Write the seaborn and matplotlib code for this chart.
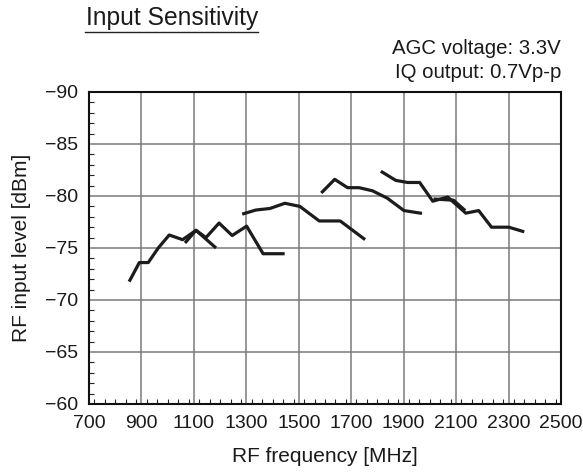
import numpy as np
import pandas as pd
import matplotlib
matplotlib.use("Agg")
import matplotlib.pyplot as plt
from matplotlib.ticker import MultipleLocator
import seaborn as sns

# %%
# curves (frequency in MHz, level in dBm)
freq_a = [856, 892, 926, 964, 1006, 1057, 1108, 1146, 1196, 1246, 1301, 1364, 1440]
level_a = [-71.9, -73.6, -73.6, -75.0, -76.25, -75.8, -76.7, -76.0, -77.4, -76.2, -77.1, -74.45, -74.45]

freq_b = [1070, 1108, 1180]
level_b = [-75.6, -76.7, -75.1]

freq_c = [1290, 1336, 1390, 1447, 1504, 1578, 1658, 1748]
level_c = [-78.3, -78.65, -78.8, -79.3, -79.0, -77.6, -77.6, -75.9]

freq_d = [1590, 1637, 1686, 1730, 1781, 1837, 1901, 1964]
level_d = [-80.4, -81.6, -80.8, -80.8, -80.5, -79.8, -78.6, -78.35]

freq_e = [1818, 1870, 1915, 1961, 2011, 2068, 2137, 2186, 2235, 2301, 2354]
level_e = [-82.3, -81.5, -81.3, -81.3, -79.5, -79.9, -78.35, -78.6, -77.0, -77.0, -76.6]

freq_f = [2020, 2090, 2130]
level_f = [-79.7, -79.6, -78.7]

curves = {"a": (freq_a, level_a), "b": (freq_b, level_b), "c": (freq_c, level_c),
          "d": (freq_d, level_d), "e": (freq_e, level_e), "f": (freq_f, level_f)}

df = pd.concat([pd.DataFrame({"freq": f, "level": l, "curve": k})
                for k, (f, l) in curves.items()], ignore_index=True)

# %%
plt.rcParams['font.family'] = ['Liberation Sans', 'DejaVu Sans']

W, H = 583, 474
fig = plt.figure(figsize=(W / 100, H / 100), dpi=100)
# frame: x 89..561 px, y 92..404 px
ax = fig.add_axes([89 / W, 1 - 404 / H, 472 / W, 312 / H])

sns.lineplot(data=df, x='freq', y='level', units='curve', estimator=None,
             sort=False, color='#1c1c1c', linewidth=2.3, ax=ax)

ax.set_xlim(700, 2500)
ax.set_ylim(-60, -90)
ax.set_xticks(np.arange(700, 2501, 200))
ax.set_yticks(np.arange(-90, -59, 5))
ax.xaxis.set_minor_locator(MultipleLocator(40))
ax.yaxis.set_minor_locator(MultipleLocator(1))
ax.tick_params(which='both', direction='in', top=False, right=False)
ax.tick_params(which='major', length=0, labelsize=14, colors='#1a1a1a')
ax.tick_params(axis='y', which='major', pad=8)
ax.tick_params(axis='x', which='major', pad=8)
ax.tick_params(which='minor', length=3.5, width=0.8, color='#222222')
ax.grid(True, which='major', color='#7a7a7a', linewidth=1.1)
for s in ax.spines.values():
    s.set_linewidth(1.5)
    s.set_color('#111111')

ax.set_xlabel('RF frequency [MHz]', fontsize=15, va='center', color='#1a1a1a')
ax.set_ylabel('RF input level [dBm]', fontsize=15, va='center', color='#1a1a1a')
ax.xaxis.set_label_coords(0.5, -(457 - 404) / 312)
ax.yaxis.set_label_coords(-(89 - 22) / 472, 0.5)

fig.text(86 / W, 1 - 25 / H, 'Input Sensitivity', fontsize=17.7,
         ha='left', va='baseline', color='#1a1a1a')
fig.add_artist(plt.Line2D([85 / W, 258 / W], [1 - 32 / H, 1 - 32 / H],
                          color='#222222', linewidth=1.0))
fig.text(561 / W, 1 - 54 / H, 'AGC voltage: 3.3V', fontsize=14.7,
         ha='right', va='baseline', color='#1a1a1a')
fig.text(561 / W, 1 - 78 / H, 'IQ output: 0.7Vp-p', fontsize=14.7,
         ha='right', va='baseline', color='#1a1a1a')

plt.savefig('out.png', dpi=100)
plt.close()
